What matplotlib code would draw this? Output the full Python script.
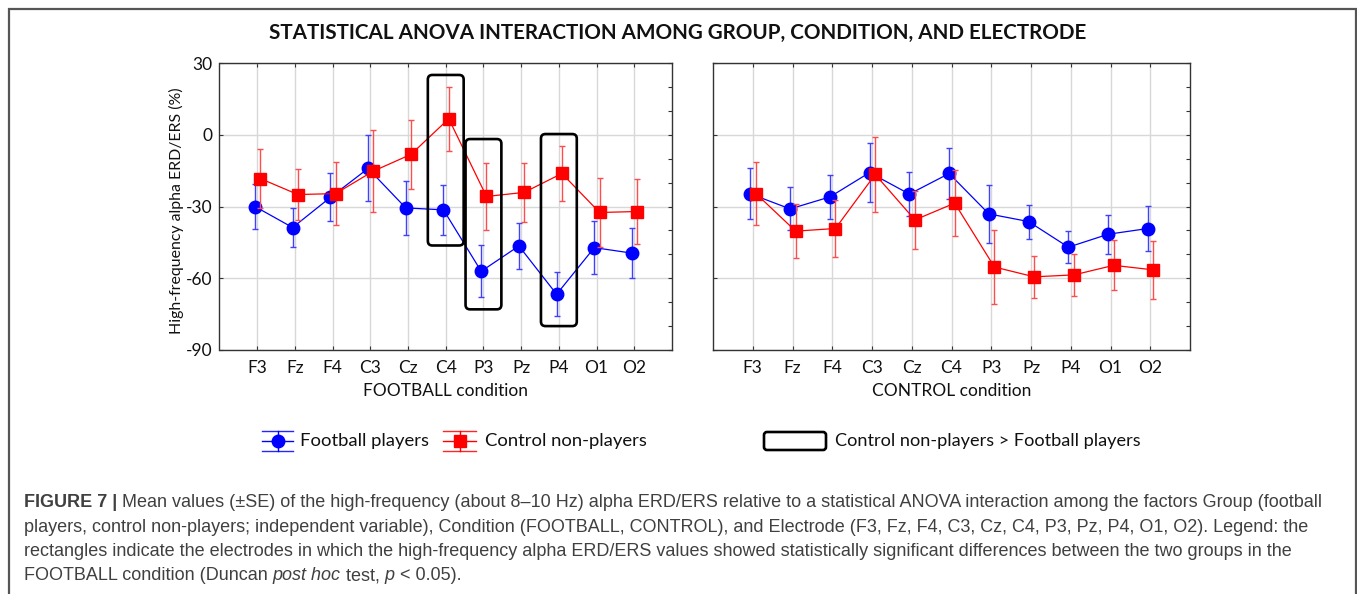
import matplotlib
matplotlib.use("Agg")
import matplotlib.pyplot as plt
import numpy as np
from matplotlib.patches import FancyBboxPatch
from matplotlib.ticker import MultipleLocator

plt.rcParams["axes.unicode_minus"] = False

# ---------------- data ----------------
electrodes = ["F3", "Fz", "F4", "C3", "Cz", "C4", "P3", "Pz", "P4", "O1", "O2"]

# FOOTBALL condition
fb_players_mean = [-30.0, -38.8, -26.2, -14.1, -30.6, -31.4, -57.1, -46.5, -66.7, -47.2, -49.5]
fb_players_se   = [9.5, 8.2, 10.0, 13.8, 11.2, 10.5, 10.8, 9.5, 9.2, 11.0, 10.6]
fb_control_mean = [-18.3, -25.0, -24.6, -15.2, -8.2, 6.7, -25.8, -24.1, -16.2, -32.5, -32.1]
fb_control_se   = [12.5, 10.8, 13.0, 17.0, 14.3, 13.4, 14.0, 12.2, 11.6, 14.4, 13.5]

# CONTROL condition
ct_players_mean = [-24.7, -31.0, -26.0, -15.8, -24.8, -16.2, -33.1, -36.3, -47.0, -41.6, -39.2]
ct_players_se   = [10.6, 9.0, 9.2, 12.4, 9.3, 10.8, 12.0, 7.1, 6.6, 8.2, 9.5]
ct_control_mean = [-24.6, -40.3, -39.2, -16.6, -35.6, -28.6, -55.3, -59.4, -58.6, -54.6, -56.5]
ct_control_se   = [13.3, 11.3, 11.9, 15.5, 12.0, 13.8, 15.3, 8.9, 8.8, 10.5, 12.0]

# significant electrodes (FOOTBALL condition) and box extents (value units)
sig_electrodes = ["C4", "P3", "P4"]
sig_box_top    = [25.0, -1.8, 0.3]
sig_box_bottom = [-46.3, -73.0, -80.0]

yticks = [30, 0, -30, -60, -90]
series_names = ["Football players", "Control non-players"]
box_legend = "Control non-players > Football players"
title = "STATISTICAL ANOVA INTERACTION AMONG GROUP, CONDITION, AND ELECTRODE"
ylabel = "High-frequency alpha ERD/ERS (%)"
xlabels = ["FOOTBALL condition", "CONTROL condition"]

# ---------------- style ----------------
W, H = 1357, 594
DPI = 100
BLUE = "#0000ff"
RED = "#ff0000"
CFONT = "Lato"
CAPFONT = "Liberation Sans"

fig = plt.figure(figsize=(W / DPI, H / DPI), dpi=DPI)
fig.patch.set_facecolor("white")

def px_axes(l, t, r, b):
    return fig.add_axes([l / W, 1 - b / H, (r - l) / W, (b - t) / H])

axL = px_axes(219.5, 63, 672, 350)
axR = px_axes(713, 63, 1190, 350)

x = np.arange(len(electrodes))
OFF_B, OFF_R = -0.06, 0.08

def draw_panel(ax, pm, ps, cm, cs):
    ax.set_xlim(-1, len(electrodes))
    ax.set_ylim(-90, 30)
    ax.set_xticks(x)
    ax.set_yticks(yticks)
    ax.yaxis.set_minor_locator(MultipleLocator(10))
    ax.grid(True, which="major", color="#d8d8d8", lw=1.0)
    ax.set_axisbelow(True)
    for s in ax.spines.values():
        s.set_color("#333333")
        s.set_linewidth(1.0)
    ax.tick_params(which="major", direction="in", length=3, width=0.8,
                   top=True, right=True, color="#333333", pad=5)
    ax.tick_params(axis="x", which="major", pad=7.5)
    ax.tick_params(which="minor", direction="in", length=3, width=0.8,
                   left=False, right=True, color="#333333")
    ax.errorbar(x + OFF_B, pm, yerr=ps, color=BLUE, lw=0.9, marker="o",
                ms=9, mec=BLUE, mfc=BLUE, ecolor=(0.25, 0.25, 1.0),
                elinewidth=1.0, capsize=2.2, capthick=1.0, zorder=3)
    ax.errorbar(x + OFF_R, cm, yerr=cs, color=RED, lw=0.9, marker="s",
                ms=9, mec=RED, mfc=RED, ecolor=(1.0, 0.3, 0.3),
                elinewidth=1.0, capsize=2.2, capthick=1.0, zorder=4)
    ax.set_xticklabels(electrodes, fontfamily=CFONT, fontsize=12.5, color="#111111")
    for lab in ax.get_yticklabels():
        lab.set_fontfamily(CFONT)
        lab.set_fontsize(12.5)
        lab.set_color("#111111")

draw_panel(axL, fb_players_mean, fb_players_se, fb_control_mean, fb_control_se)
draw_panel(axR, ct_players_mean, ct_players_se, ct_control_mean, ct_control_se)
axR.set_yticklabels([])

axL.set_xlabel(xlabels[0], fontfamily=CFONT, fontsize=12.5, labelpad=5, color="#111111")
axR.set_xlabel(xlabels[1], fontfamily=CFONT, fontsize=12.5, labelpad=5, color="#111111")

# significance boxes
px_per_x = (672 - 219.5) / 12.0
px_per_y = 287.0 / 120.0
aspect = px_per_x / px_per_y
for name, top, bot in zip(sig_electrodes, sig_box_top, sig_box_bottom):
    i = electrodes.index(name)
    bw = 0.95
    p = FancyBboxPatch((i - bw / 2, bot), bw, top - bot,
                       boxstyle="round,pad=0,rounding_size=0.12",
                       mutation_aspect=aspect, fill=False,
                       ec="black", lw=1.9, zorder=5)
    axL.add_patch(p)

# overlay axes in pixel coordinates for title, labels, legend, caption, frame
ov = fig.add_axes([0, 0, 1, 1], zorder=-1)
ov.set_xlim(0, W)
ov.set_ylim(H, 0)
ov.axis("off")

# outer frame (open at bottom)
ov.plot([8.5, 8.5, 1355.5, 1355.5], [H + 5, 8.5, 8.5, H + 5], color="#555555",
        lw=1.6, solid_joinstyle="miter", clip_on=False)

ov.text(678, 33, title, ha="center", va="center", fontfamily=CFONT,
        fontweight="bold", fontsize=14.9, color="#111111")
ov.text(176, 211, ylabel, ha="center", va="center", rotation=90,
        fontfamily=CFONT, fontsize=11.4, color="#111111")

# legend
ov2 = fig.add_axes([0, 0, 1, 1], zorder=10)
ov2.set_xlim(0, W)
ov2.set_ylim(H, 0)
ov2.axis("off")

def legend_icon(x0, x1, yc, color, marker):
    for yy in (yc - 10, yc + 10):
        ov2.plot([x0, x1], [yy, yy], color=color, lw=1.0, alpha=0.85)
    ov2.plot([x0, x1], [yc, yc], color=color, lw=1.0)
    xc = (x0 + x1) / 2
    ov2.plot([xc, xc], [yc - 10, yc + 10], color=color, lw=1.0)
    ov2.plot([xc], [yc], marker=marker, ms=9, color=color, mec=color)

LY = 441
legend_icon(262, 293, LY, BLUE, "o")
ov2.text(300, LY, series_names[0], ha="left", va="center", fontfamily=CFONT,
         fontsize=13.3, color="#111111")
legend_icon(443, 476, LY, RED, "s")
ov2.text(485, LY, series_names[1], ha="left", va="center", fontfamily=CFONT,
         fontsize=13.3, color="#111111")
ov2.add_patch(FancyBboxPatch((764, 432), 62, 18,
                             boxstyle="round,pad=0,rounding_size=3",
                             fill=False, ec="black", lw=1.9))
ov2.text(835, LY, box_legend, ha="left", va="center", fontfamily=CFONT,
         fontsize=13.1, color="#111111")

# caption
renderer = fig.canvas.get_renderer()
CAPCOL = "#404040"
CAPSIZE = 12.95

def seg_advance(s, **kw):
    t1 = ov2.text(0, 0, "x" + s + "x", fontfamily=CAPFONT, fontsize=CAPSIZE, **kw)
    t2 = ov2.text(0, 0, "xx", fontfamily=CAPFONT, fontsize=CAPSIZE, **kw)
    w = t1.get_window_extent(renderer).width - t2.get_window_extent(renderer).width
    t1.remove(); t2.remove()
    return w

def draw_line(segments, x0, y):
    xx = x0
    for s, kw in segments:
        ov2.text(xx, y, s, ha="left", va="baseline", fontfamily=CAPFONT,
                 fontsize=CAPSIZE, color=CAPCOL, **kw)
        xx += seg_advance(s, **kw)

N = {}
B = {"fontweight": "bold"}
I = {"fontstyle": "italic"}
cap_lines = [
    [("FIGURE 7 | ", B),
     ("Mean values (\u00b1SE) of the high-frequency (about 8\u201310 Hz) alpha ERD/ERS relative to a statistical ANOVA interaction among the factors Group (football", N)],
    [("players, control non-players; independent variable), Condition (FOOTBALL, CONTROL), and Electrode (F3, Fz, F4, C3, Cz, C4, P3, Pz, P4, O1, O2). Legend: the", N)],
    [("rectangles indicate the electrodes in which the high-frequency alpha ERD/ERS values showed statistically significant differences between the two groups in the", N)],
    [("FOOTBALL condition (Duncan ", N), ("post hoc", I), (" test, ", N), ("p", I), (" < 0.05).", N)],
]
for k, segs in enumerate(cap_lines):
    draw_line(segs, 24, 507 + 24.5 * k)

fig.savefig("out.png", dpi=DPI, facecolor="white")
